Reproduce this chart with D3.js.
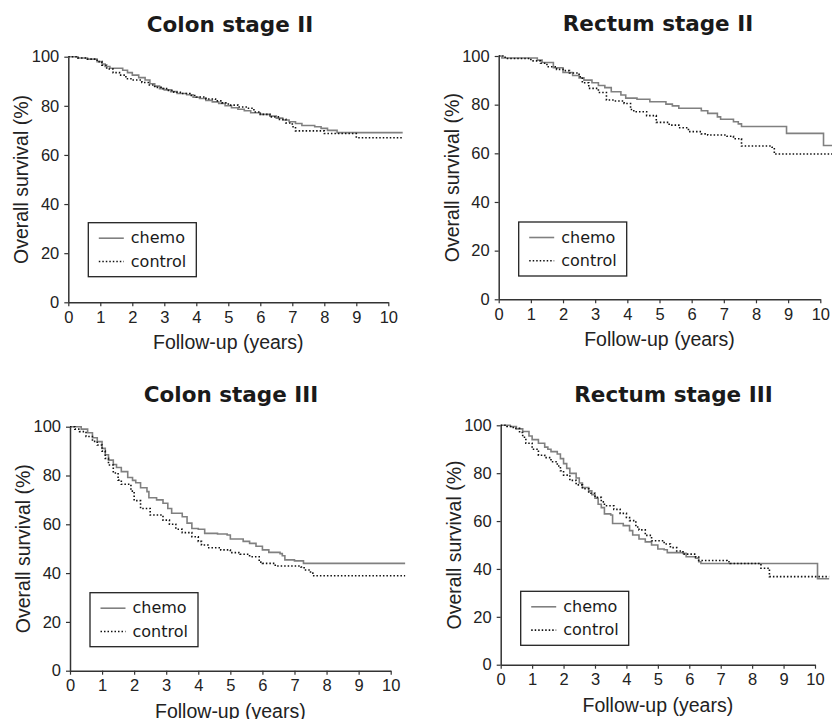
<!DOCTYPE html>
<html>
<head>
<meta charset="utf-8">
<script src="https://cdn.jsdelivr.net/npm/d3@7"></script>
<style>
  body { margin: 0; background: #fff; }
  svg { display: block; }
</style>
</head>
<body>
<div id="chart"></div>
<script>
// survival curves: [years, % alive]
const colonIIChemo = [[0,100],[0.3,99.5],[0.6,99],[0.9,98],[1.05,97],[1.15,96],[1.3,95.3],[1.7,94.5],[1.85,93.5],[2.0,92.5],[2.2,91.5],[2.4,90.5],[2.55,89],[2.7,88],[2.85,87],[3.0,86.5],[3.2,85.8],[3.4,85],[3.7,84.5],[3.9,83.5],[4.1,83],[4.3,82.2],[4.5,81.6],[4.7,81],[4.9,80],[5.1,79.2],[5.3,78.6],[5.5,78],[5.7,77.2],[6.0,76.5],[6.3,75.8],[6.5,75],[6.7,74.2],[6.9,73.5],[7.1,72.8],[7.3,72],[7.7,71.5],[7.9,70.8],[8.1,70],[8.4,69.1],[10.45,69.1]];
const colonIIControl = [[0,100],[0.3,99.5],[0.6,99],[0.9,98],[1.05,96.5],[1.2,95],[1.4,93.5],[1.6,92.5],[1.8,91],[2.0,90.5],[2.3,89.5],[2.5,88.5],[2.7,87.5],[2.9,87],[3.1,86.3],[3.3,85.5],[3.5,85],[3.8,84.2],[4.0,83.6],[4.3,82.8],[4.6,82],[4.8,81.2],[5.0,80.3],[5.3,79.5],[5.6,79],[5.8,77.5],[6.0,76.5],[6.3,75.5],[6.6,74.5],[6.8,73],[7.0,71.5],[7.1,69.8],[8.0,68.7],[9.0,67],[10.45,67]];

const rectumIIChemo = [[0,100],[0.1,99.2],[1.2,98.3],[1.35,97.3],[1.7,95.2],[2.0,93.2],[2.3,92],[2.5,91],[2.65,90.1],[2.9,89],[3.1,87.9],[3.3,87],[3.5,85.3],[3.8,84],[3.95,82.7],[4.3,82.2],[4.7,81.2],[5.2,80.2],[5.4,79.5],[5.6,78.5],[6.3,77.5],[6.5,76.4],[6.8,75],[6.9,74],[7.3,73],[7.45,72.1],[7.55,71],[8.95,68.2],[10.1,63.2],[10.45,63.2]];
const rectumIIControl = [[0,100],[0.2,99],[1.0,98],[1.3,97],[1.5,95.6],[1.8,94.5],[2.0,94],[2.2,93],[2.5,91.5],[2.6,89],[2.8,86.7],[3.1,85],[3.35,81.9],[3.6,81.5],[3.9,80.5],[4.1,78],[4.2,77.1],[4.6,75.5],[4.9,72.7],[5.3,71.6],[5.6,70.5],[5.9,68.9],[6.3,68],[6.5,67.5],[7.1,67],[7.3,66],[7.55,63],[8.5,62.5],[8.57,59.7],[10.45,59.7]];

const colonIIIChemo = [[0,100],[0.35,99],[0.55,97.5],[0.7,95.5],[0.85,93.9],[1.0,91.1],[1.1,88.5],[1.2,86.3],[1.35,84.5],[1.45,83.3],[1.6,81.6],[1.8,79.2],[1.95,78],[2.05,77],[2.2,75],[2.4,73.4],[2.46,70.9],[2.7,70],[2.9,68.6],[3.05,66.5],[3.17,64.5],[3.5,63.1],[3.65,60.5],[3.8,58.3],[4.0,58],[4.2,56.3],[4.6,56],[4.9,55.6],[5.0,54],[5.4,53],[5.6,52.2],[5.8,51],[6.0,49.5],[6.2,48.5],[6.55,48],[6.62,47.1],[6.7,45.4],[7.0,45],[7.28,44],[10.45,44]];
const colonIIIControl = [[0,100],[0.15,99],[0.3,98],[0.5,96],[0.7,94],[0.85,92.5],[1.0,90],[1.1,87],[1.2,84.3],[1.35,81],[1.5,78.1],[1.6,76.4],[1.9,73.6],[2.0,69.7],[2.2,66.5],[2.5,63.8],[2.9,61.7],[3.1,60],[3.3,58],[3.5,56.6],[3.8,54.9],[4.0,53],[4.1,51.5],[4.3,50.4],[4.7,49.5],[5.0,48.4],[5.3,47.7],[5.6,46.7],[5.9,44.5],[6.0,44],[6.4,42.9],[7.2,42.5],[7.3,41.3],[7.5,40],[7.6,38.9],[10.45,38.9]];

const rectumIIIChemo = [[0,100],[0.3,99.5],[0.5,98.5],[0.7,97.4],[0.9,95.5],[1.0,94],[1.2,92.5],[1.4,90.9],[1.5,90],[1.6,89],[1.8,88],[1.9,86.1],[2.0,84],[2.1,82],[2.2,79.9],[2.4,78],[2.5,75.9],[2.6,74],[2.8,72.6],[2.9,71],[3.0,69.5],[3.1,67],[3.2,65.6],[3.3,63],[3.5,62.5],[3.56,59],[3.9,58.1],[4.1,56],[4.2,54.2],[4.4,52.5],[4.6,51.3],[4.8,50],[5.0,48.3],[5.2,48],[5.3,46.8],[5.8,46.5],[5.9,45.1],[6.2,44.5],[6.3,43],[6.37,42.3],[10.08,35.9],[10.45,35.9]];
const rectumIIIControl = [[0,100],[0.2,99.5],[0.4,98.7],[0.6,97],[0.7,95],[0.8,92.5],[1.0,90],[1.2,87.5],[1.4,86.5],[1.6,84.8],[1.8,83],[1.9,81],[2.0,79.2],[2.2,77],[2.4,75.1],[2.6,73.5],[2.8,71.6],[3.0,69.9],[3.2,68],[3.3,66.4],[3.6,64.9],[3.8,63.2],[4.0,61.5],[4.1,60.2],[4.3,57.5],[4.4,56.3],[4.6,54],[4.8,51.8],[5.2,50.4],[5.4,48.9],[5.6,47.5],[5.8,46.2],[6.2,45],[6.3,43.5],[7.2,43],[7.3,42.3],[8.28,40.3],[8.55,36.8],[10.45,36.8]];

const panelTitles = ["Colon stage II", "Rectum stage II", "Colon stage III", "Rectum stage III"];
const legendLabels = ["chemo", "control"];
const xTicks = [0, 1, 2, 3, 4, 5, 6, 7, 8, 9, 10];
const yTicks = [0, 20, 40, 60, 80, 100];

const W = 832, H = 719;

// plot boxes (pixel layout of the four panels)
const panels = [
  {title: panelTitles[0], chemo: colonIIChemo,   control: colonIIControl,   left: 68.3,  top: 56.7,  w: 320,   h: 245.6, titleX: 230,   titleY: 31.5},
  {title: panelTitles[1], chemo: rectumIIChemo,  control: rectumIIControl,  left: 498.7, top: 56,    w: 321.6, h: 243.3, titleX: 658,   titleY: 30.5},
  {title: panelTitles[2], chemo: colonIIIChemo,  control: colonIIIControl,  left: 70,    top: 426.7, w: 320.7, h: 244,   titleX: 231,   titleY: 401.5},
  {title: panelTitles[3], chemo: rectumIIIChemo, control: rectumIIIControl, left: 500.7, top: 425.3, w: 314.3, h: 239.4, titleX: 673.5, titleY: 401.5}
];

const svg = d3.select("#chart")
  .append("svg")
    .attr("width", W)
    .attr("height", H);

const axisFont = "'Liberation Sans', Arial, sans-serif";
const comicFont = "'Comic Sans MS', 'DejaVu Sans', sans-serif";

panels.forEach(function(p) {

  // title
  svg.append("text")
    .attr("x", p.titleX)
    .attr("y", p.titleY)
    .attr("text-anchor", "middle")
    .style("font-family", comicFont)
    .style("font-weight", "bold")
    .style("font-size", "21.5px")
    .style("fill", "#1a1a1a")
    .text(p.title);

  const g = svg.append("g")
    .attr("transform", `translate(${p.left},${p.top})`);

  const x = d3.scaleLinear().domain([0, 10]).range([0, p.w]);
  const y = d3.scaleLinear().domain([0, 100]).range([p.h, 0]);

  // X axis
  const xAxis = g.append("g")
    .attr("transform", `translate(0,${p.h})`)
    .call(d3.axisBottom(x).tickValues(xTicks).tickSize(4).tickSizeOuter(0).tickPadding(5));
  // Y axis
  const yAxis = g.append("g")
    .call(d3.axisLeft(y).tickValues(yTicks).tickSize(4).tickSizeOuter(0).tickPadding(5));

  [xAxis, yAxis].forEach(function(a) {
    a.select(".domain").attr("stroke", "#333").attr("stroke-width", 1.5);
    a.selectAll(".tick line").attr("stroke", "#333").attr("stroke-width", 1.2);
    a.selectAll(".tick text")
      .style("font-family", axisFont)
      .style("font-size", "16.5px")
      .style("fill", "#222");
  });

  // curves
  const line = d3.line()
    .x(function(d) { return x(d[0]); })
    .y(function(d) { return y(d[1]); })
    .curve(d3.curveStepAfter);

  g.append("path")
    .datum(p.chemo)
    .attr("fill", "none")
    .attr("stroke", "#808080")
    .attr("stroke-width", 1.6)
    .attr("d", line);

  g.append("path")
    .datum(p.control)
    .attr("fill", "none")
    .attr("stroke", "#111")
    .attr("stroke-width", 1.6)
    .attr("stroke-dasharray", "1.5,2")
    .attr("d", line);

  // axis labels
  g.append("text")
    .attr("text-anchor", "middle")
    .attr("x", p.w / 2)
    .attr("y", p.h + 47)
    .style("font-family", axisFont)
    .style("font-size", "19.5px")
    .style("fill", "#222")
    .text("Follow-up (years)");

  g.append("text")
    .attr("text-anchor", "middle")
    .attr("transform", "rotate(-90)")
    .attr("x", -p.h / 2)
    .attr("y", -40)
    .style("font-family", axisFont)
    .style("font-size", "19.5px")
    .style("fill", "#222")
    .text("Overall survival (%)");

  // legend
  const lg = g.append("g")
    .attr("transform", `translate(20,166)`);
  lg.append("rect")
    .attr("width", 108)
    .attr("height", 54)
    .attr("fill", "#fff")
    .attr("stroke", "#222")
    .attr("stroke-width", 1.3);

  legendLabels.forEach(function(lab, i) {
    const yy = 15.5 + i * 23.3;
    lg.append("line")
      .attr("x1", 10.5).attr("x2", 35.5)
      .attr("y1", yy).attr("y2", yy)
      .attr("stroke", i === 0 ? "#808080" : "#111")
      .attr("stroke-width", 1.6)
      .attr("stroke-dasharray", i === 0 ? null : "1.5,2");
    lg.append("text")
      .attr("x", 42.5)
      .attr("y", yy)
      .attr("dy", "0.32em")
      .style("font-family", comicFont)
      .style("font-size", "16px")
      .style("fill", "#1a1a1a")
      .text(lab);
  });
});
</script>
</body>
</html>
